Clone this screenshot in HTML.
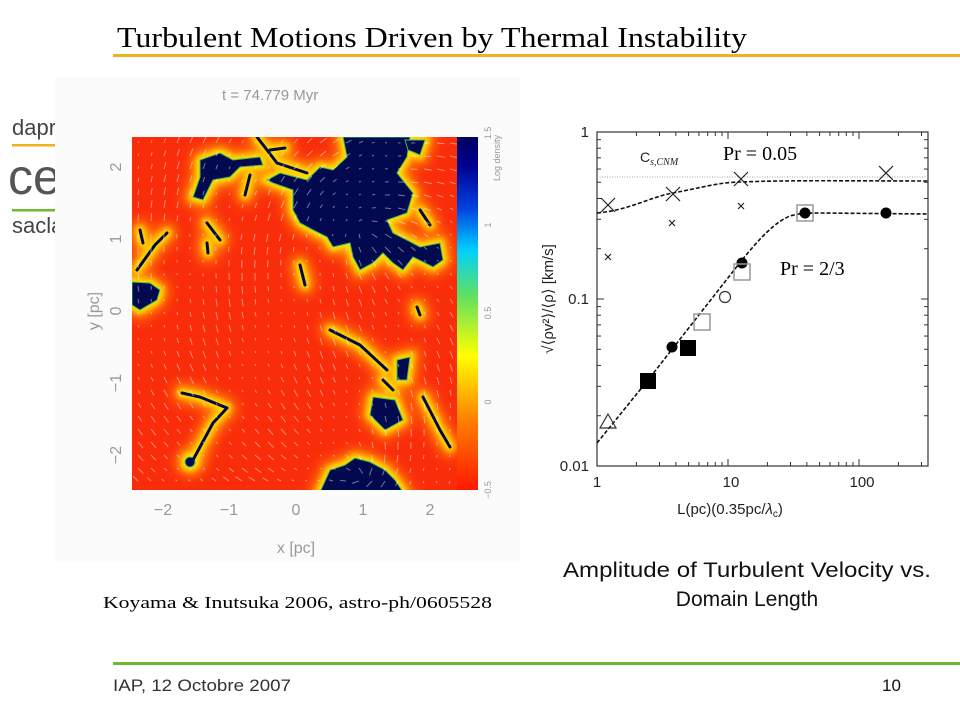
<!DOCTYPE html>
<html><head><meta charset="utf-8"><style>
html,body{margin:0;padding:0;background:#fff;width:960px;height:720px;overflow:hidden}
svg{display:block}
</style></head><body>
<svg id="s" width="960" height="720" xmlns="http://www.w3.org/2000/svg" font-family="Liberation Sans, sans-serif">
<defs>
<linearGradient id="cb" x1="0" y1="1" x2="0" y2="0">
<stop offset="0" stop-color="#ff1800"/><stop offset="0.2" stop-color="#ff8000"/><stop offset="0.38" stop-color="#ffff00"/>
<stop offset="0.55" stop-color="#60e060"/><stop offset="0.68" stop-color="#00d0ff"/><stop offset="0.8" stop-color="#0040e0"/>
<stop offset="0.92" stop-color="#000090"/><stop offset="1" stop-color="#000060"/></linearGradient>
<filter id="bl" x="-20%" y="-20%" width="140%" height="140%"><feGaussianBlur stdDeviation="3"/></filter>
<filter id="bl2" x="-30%" y="-30%" width="160%" height="160%"><feGaussianBlur stdDeviation="6"/></filter>
<clipPath id="cp"><rect x="132" y="137" width="325" height="353"/></clipPath>
<clipPath id="cp2"><rect x="597" y="132" width="331" height="334"/></clipPath>
</defs>
<!-- title -->
<text x="117" y="47" font-family="Liberation Serif, serif" font-size="28" textLength="630" lengthAdjust="spacingAndGlyphs">Turbulent Motions Driven by Thermal Instability</text>
<rect x="113" y="54" width="847" height="3" fill="#f0b020"/>
<!-- logo -->
<g fill="#444">
<text x="12" y="135" font-size="22">daprıa</text>
<rect x="12" y="144" width="60" height="2.5" fill="#f0b020"/>
<text x="8" y="194" font-size="50" fill="#555" font-weight="normal">ce</text>
<rect x="12" y="209" width="60" height="2.5" fill="#70b830"/>
<text x="12" y="233" font-size="22">saclay</text>
</g>
<!-- left image panel -->
<rect x="55" y="77" width="465" height="485" fill="#fbfbfb"/>
<text x="222" y="100" font-size="15" fill="#999">t =  74.779 Myr</text>
<rect x="132" y="137" width="325" height="353" fill="#fa2d0a"/>
<g clip-path="url(#cp)">
<g id="blobs">
<path d="M343,137 L410,137 407,157 397,173 413,193 407,213 387,220 393,233 407,240 420,247 440,243 443,260 433,267 413,257 403,270 393,263 383,253 373,263 360,270 353,257 350,243 333,247 327,237 313,230 300,223 293,210 293,190 273,183 267,180 280,173 307,180 320,167 333,170 347,157Z"/>
<path d="M200,160 220,153 233,160 260,157 263,165 240,167 230,177 213,180 203,200 193,197 200,177Z"/>
<path d="M132,282 150,283 160,290 157,300 140,310 132,305Z"/>
<path d="M320,492 330,470 345,465 355,458 370,462 385,470 395,480 403,492Z"/>
<path d="M373,397 395,400 403,420 385,430 370,415Z"/>
<path d="M397,360 410,357 407,380 397,380Z"/>
<path d="M405,140 425,140 420,155 408,150Z"/>
<circle cx="190" cy="462" r="5"/>
</g>
<g id="fils" fill="none" stroke-width="3" stroke-linecap="round">
<path d="M182,393 L200,397 227,408 M227,408 L213,423 200,447 193,460"/>
<path d="M257,137 L277,163 307,173"/>
<path d="M330,330 L360,345 387,370"/>
<path d="M423,397 L440,430 450,447"/>
<path d="M207,223 L220,240 M207,243 L208,253 M137,270 L155,245 167,233 M140,230 L143,243 M417,307 L420,315"/>
<path d="M300,265 L305,285 M270,150 L285,148 M420,210 L430,225 M383,380 L393,390 M250,175 L245,195"/>
</g>
</g>
<!-- colorbar -->
<rect x="457" y="137" width="21" height="353" fill="url(#cb)"/>
<g font-size="9" fill="#999">
<text transform="translate(491,133) rotate(-90)" text-anchor="middle">1.5</text>
<text transform="translate(491,225) rotate(-90)" text-anchor="middle">1</text>
<text transform="translate(491,313) rotate(-90)" text-anchor="middle">0.5</text>
<text transform="translate(491,402) rotate(-90)" text-anchor="middle">0</text>
<text transform="translate(491,490) rotate(-90)" text-anchor="middle">−0.5</text>
<text transform="translate(500,158) rotate(-90)" text-anchor="middle">Log density</text>
</g>
<g font-size="16" fill="#999" text-anchor="middle">
<text x="163" y="515">−2</text><text x="229" y="515">−1</text><text x="296" y="515">0</text><text x="363" y="515">1</text><text x="430" y="515">2</text>
<text x="296" y="553">x [pc]</text>
<text transform="translate(121,167) rotate(-90)">2</text>
<text transform="translate(121,239) rotate(-90)">1</text>
<text transform="translate(121,311) rotate(-90)">0</text>
<text transform="translate(121,383) rotate(-90)">−1</text>
<text transform="translate(121,455) rotate(-90)">−2</text>
<text transform="translate(99,311) rotate(-90)">y [pc]</text>
</g>
<g id="arrows" stroke="#ffffff" stroke-opacity="0.45" stroke-width="1" clip-path="url(#cp)"></g>
<text x="103" y="608" font-family="Liberation Serif, serif" font-size="17" textLength="389" lengthAdjust="spacingAndGlyphs">Koyama &amp; Inutsuka 2006, astro-ph/0605528</text>
<!-- chart -->
<rect x="597" y="132" width="331" height="334" fill="none" stroke="#333" stroke-width="1.2"/>
<g id="ticks" stroke="#333" stroke-width="1"></g>
<g font-size="15" fill="#222">
<text x="589" y="137" text-anchor="end">1</text>
<text x="589" y="304" text-anchor="end">0.1</text>
<text x="589" y="471" text-anchor="end">0.01</text>
<text x="597" y="487" text-anchor="middle">1</text>
<text x="731" y="487" text-anchor="middle">10</text>
<text x="862" y="487" text-anchor="middle">100</text>
<text x="730" y="514" text-anchor="middle" font-size="15">L(pc)(0.35pc/<tspan font-style="italic">λ</tspan><tspan font-size="10" dy="3">c</tspan><tspan dy="-3">)</tspan></text>
<text transform="translate(553,299) rotate(-90)" text-anchor="middle" font-size="15">√⟨ρv²⟩/⟨ρ⟩ [km/s]</text>
<text x="640" y="162" font-size="14">C<tspan font-size="10" font-style="italic" font-family="Liberation Serif, serif" dy="3">s,CNM</tspan></text>
</g>
<text x="723" y="160" font-family="Liberation Serif, serif" font-size="20">Pr = 0.05</text>
<text x="780" y="275" font-family="Liberation Serif, serif" font-size="20">Pr = 2/3</text>
<g clip-path="url(#cp2)" fill="none">
<line x1="597" y1="177" x2="928" y2="177" stroke="#888" stroke-width="0.8" stroke-dasharray="1,1.5"/>
<path d="M597,213 C630,210 650,197 673,193 C700,188 720,182 741,182 C790,180 850,181 928,181" stroke="#111" stroke-width="1.6" stroke-dasharray="4,2"/>
<path d="M597,443 L648,380 L742,260 C760,238 775,222 790,216 C800,213 810,213 820,213 L928,214" stroke="#111" stroke-width="1.6" stroke-dasharray="4,2"/>
</g>
<g stroke="#222" stroke-width="1.2">
<path d="M601,198 l14,14 m0,-14 l-14,14 M666,187 l14,14 m0,-14 l-14,14 M734,172 l14,14 m0,-14 l-14,14 M879,166 l14,14 m0,-14 l-14,14"/>
<path d="M605,254 l6,6 m0,-6 l-6,6 M669,220 l6,6 m0,-6 l-6,6 M738,203 l6,6 m0,-6 l-6,6"/>
</g>
<g fill="#000">
<circle cx="672" cy="347" r="5.5"/><circle cx="742" cy="263" r="5.5"/><circle cx="805" cy="213" r="5.5"/><circle cx="886" cy="213" r="5.5"/>
<rect x="640" y="373" width="16" height="16"/><rect x="680" y="340" width="16" height="16"/>
</g>
<g fill="none" stroke="#999" stroke-width="1.5">
<rect x="694" y="314" width="16" height="16"/><rect x="734" y="264" width="16" height="16"/><rect x="797" y="205" width="16" height="16"/>
</g>
<circle cx="725" cy="297" r="5.5" fill="none" stroke="#333" stroke-width="1.2"/>
<path d="M608,414 L616,428 L600,428Z" fill="none" stroke="#333" stroke-width="1.2"/>
<g font-size="21" text-anchor="middle" fill="#111">
<text x="747" y="577" textLength="368" lengthAdjust="spacingAndGlyphs">Amplitude of Turbulent Velocity vs.</text>
<text x="747" y="606">Domain Length</text>
</g>
<!-- footer -->
<rect x="113" y="662" width="847" height="3" fill="#70b830"/>
<text x="113" y="691" font-size="17" fill="#333" textLength="178" lengthAdjust="spacingAndGlyphs">IAP, 12 Octobre 2007</text>
<text x="882" y="691" font-size="17" fill="#111">10</text>
</svg>
<script>
(function(){
var NS="http://www.w3.org/2000/svg";
function el(t,a,p){var e=document.createElementNS(NS,t);for(var k in a)e.setAttribute(k,a[k]);p.appendChild(e);return e;}
var blobs=document.getElementById('blobs'),fils=document.getElementById('fils');
var par=blobs.parentNode;
function mk(src,fill,stroke,w,f){var h=src.cloneNode(true);h.removeAttribute('id');h.setAttribute('fill',fill);h.setAttribute('stroke',stroke);h.setAttribute('stroke-width',w);h.setAttribute('filter',f);par.insertBefore(h,blobs);}
mk(fils,'none','#ff9a00','18','url(#bl2)');
mk(blobs,'#ff9a00','#ff9a00','16','url(#bl2)');
mk(fils,'none','#ffe000','9','url(#bl)');
mk(blobs,'#ffe000','#ffe000','8','url(#bl)');
blobs.setAttribute('fill','#02094e');blobs.setAttribute('stroke','#40c060');blobs.setAttribute('stroke-width','1');
fils.setAttribute('stroke','#02094e');
var ar=document.getElementById('arrows');
for(var x=138;x<457;x+=13)for(var y=143;y<490;y+=13){
 var dx=x-360,dy=y-230,dx2=x-360,dy2=y-470;
 var a=Math.atan2(dy,dx)*0.5+Math.atan2(dy2,dx2)*0.5+1.2;
 var L=5+3*Math.sin(x*0.05+y*0.03);
 el('line',{x1:x,y1:y,x2:(x+L*Math.cos(a)).toFixed(1),y2:(y+L*Math.sin(a)).toFixed(1)},ar);
}
var tk=document.getElementById('ticks');
function tx(v){return 597+131*Math.log10(v);}
function ty(v){return 132-167*Math.log10(v);}
[1,10,100].forEach(function(d){for(var m=1;m<10;m++){var X=tx(d*m);if(X>928)return;var l=m==1?7:4;
 el('line',{x1:X,y1:466,x2:X,y2:466-l},tk);el('line',{x1:X,y1:132,x2:X,y2:132+l},tk);}});
[0.01,0.1].forEach(function(d){for(var m=1;m<=10;m++){var Y=ty(d*m);var l=(m==1||m==10)?7:4;
 el('line',{x1:597,y1:Y,x2:597+l,y2:Y},tk);el('line',{x1:928,y1:Y,x2:928-l,y2:Y},tk);}});
})();
</script>
</body></html>
